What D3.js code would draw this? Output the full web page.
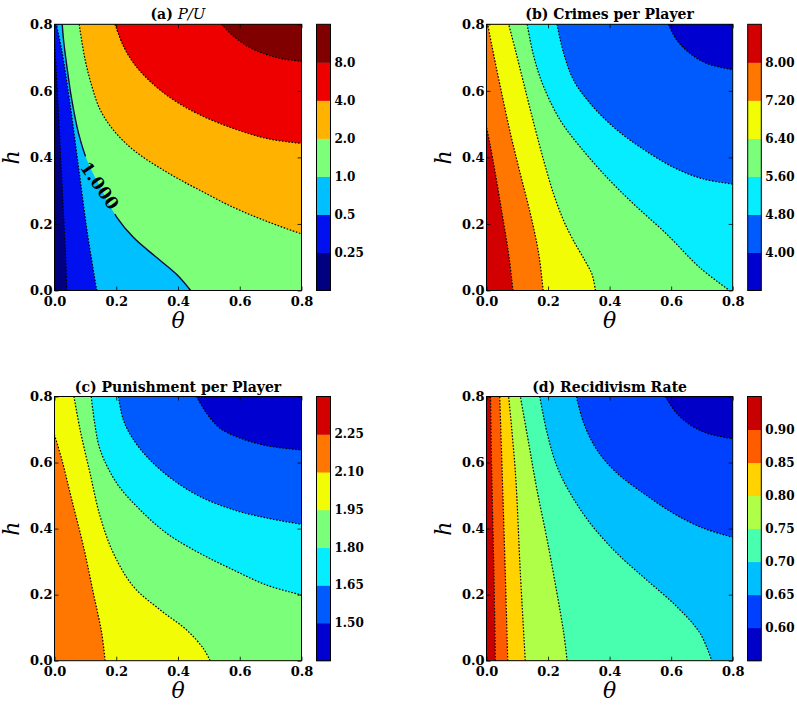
<!DOCTYPE html>
<html>
<head>
<meta charset="utf-8">
<script src="https://cdn.jsdelivr.net/npm/d3@7"></script>
<style>
  html, body { margin: 0; padding: 0; background: #fff; }
  svg { display: block; }
</style>
</head>
<body>
<svg id="chart" width="797" height="706"></svg>
<script>
// ---------------- DATA ----------------
const thetaTicks = [0, 0.2, 0.4, 0.6, 0.8];
const hTicks = [0, 0.2, 0.4, 0.6, 0.8];

// (a) P/U  -- contour boundaries [theta, h]; value grows toward upper-right
const aLevelLabels = ["0.25", "0.5", "1.0", "2.0", "4.0", "8.0"];
const aC025 = [[0.040,0],[0.035,0.12],[0.028,0.25],[0.021,0.38],[0.014,0.51],[0.006,0.65],[0,0.75]];
const aC05  = [[0.137,0],[0.107,0.17],[0.078,0.37],[0.049,0.57],[0.024,0.72],[0.006,0.8]];
const aC1   = [[0.441,0],[0.396,0.048],[0.331,0.099],[0.256,0.159],[0.202,0.220],[0.148,0.311],[0.105,0.392],[0.078,0.472],[0.056,0.573],[0.040,0.674],[0.029,0.755],[0.025,0.8]];
const aC2   = [[0.080,0.8],[0.099,0.694],[0.121,0.614],[0.148,0.543],[0.191,0.482],[0.256,0.422],[0.363,0.356],[0.471,0.301],[0.579,0.250],[0.687,0.208],[0.8,0.170]];
const aC4   = [[0.196,0.8],[0.223,0.735],[0.256,0.684],[0.309,0.629],[0.385,0.573],[0.471,0.528],[0.579,0.487],[0.687,0.457],[0.8,0.442]];
const aC8   = [[0.541,0.8],[0.579,0.765],[0.633,0.730],[0.687,0.709],[0.741,0.696],[0.8,0.689]];
const aLabelText = "1.000";
const aLabelAt = [0.146, 0.315];

// (b) Crimes per Player -- value falls toward upper-right
const bLevelLabels = ["4.00", "4.80", "5.60", "6.40", "7.20", "8.00"];
const bC800 = [[0.086,0],[0.072,0.109],[0.051,0.229],[0.029,0.350],[0.011,0.441],[0,0.491]];
const bC720 = [[0.184,0],[0.170,0.109],[0.143,0.229],[0.110,0.350],[0.078,0.471],[0.045,0.612],[0.018,0.733],[0.004,0.8]];
const bC640 = [[0.354,0],[0.343,0.048],[0.321,0.088],[0.283,0.149],[0.251,0.209],[0.218,0.290],[0.186,0.390],[0.154,0.501],[0.121,0.622],[0.094,0.722],[0.072,0.8]];
const bC560 = [[0.132,0.8],[0.154,0.702],[0.186,0.612],[0.240,0.511],[0.305,0.431],[0.391,0.340],[0.478,0.260],[0.586,0.169],[0.694,0.068],[0.79,0]];
const bC480 = [[0.229,0.8],[0.251,0.712],[0.283,0.632],[0.337,0.562],[0.413,0.491],[0.499,0.431],[0.608,0.370],[0.705,0.335],[0.8,0.32]];
const bC400 = [[0.591,0.8],[0.618,0.753],[0.662,0.712],[0.716,0.682],[0.8,0.664]];

// (c) Punishment per Player
const cLevelLabels = ["1.50", "1.65", "1.80", "1.95", "2.10", "2.25"];
const cC210 = [[0.164,0],[0.153,0.083],[0.126,0.204],[0.094,0.345],[0.056,0.487],[0.024,0.608],[0,0.684]];
const cC195 = [[0.504,0],[0.482,0.037],[0.428,0.093],[0.342,0.154],[0.256,0.224],[0.191,0.325],[0.148,0.436],[0.115,0.568],[0.083,0.699],[0.063,0.8]];
const cC180 = [[0.119,0.8],[0.130,0.72],[0.148,0.638],[0.202,0.537],[0.277,0.457],[0.363,0.386],[0.471,0.325],[0.579,0.275],[0.687,0.229],[0.8,0.199]];
const cC165 = [[0.207,0.8],[0.223,0.729],[0.256,0.669],[0.309,0.608],[0.385,0.547],[0.471,0.497],[0.579,0.457],[0.687,0.432],[0.8,0.413]];
const cC150 = [[0.460,0.8],[0.493,0.749],[0.536,0.704],[0.601,0.674],[0.687,0.651],[0.8,0.638]];

// (d) Recidivism Rate
const dLevelLabels = ["0.60", "0.65", "0.70", "0.75", "0.80", "0.85", "0.90"];
const dC090 = [[0.029,0],[0.024,0.265],[0.017,0.568],[0.013,0.8]];
const dC085 = [[0.069,0],[0.061,0.265],[0.051,0.568],[0.043,0.8]];
const dC080 = [[0.126,0],[0.110,0.265],[0.094,0.568],[0.072,0.8]];
const dC075 = [[0.262,0],[0.251,0.083],[0.229,0.204],[0.197,0.366],[0.164,0.517],[0.137,0.659],[0.110,0.8]];
const dC070 = [[0.173,0.8],[0.197,0.689],[0.229,0.588],[0.272,0.507],[0.337,0.416],[0.424,0.325],[0.521,0.244],[0.618,0.164],[0.694,0.083],[0.732,0]];
const dC065 = [[0.292,0.8],[0.316,0.719],[0.359,0.638],[0.424,0.568],[0.510,0.507],[0.608,0.446],[0.705,0.401],[0.8,0.374]];
const dC060 = [[0.581,0.8],[0.618,0.749],[0.662,0.714],[0.716,0.689],[0.8,0.672]];

// ---------------- STYLES ----------------
const aColors = ["#000080","#0010ee","#00c0ff","#7dff7a","#ffb300","#ee0000","#800000"];
const bcColors = ["#0000d1","#005bff","#05edff","#7bff7b","#f1fc05","#ff7600","#d20000"];
const dColors = ["#0000c8","#0040ff","#00bfff","#48ffaf","#afff48","#ffd200","#ff5c00","#c80000"];
const FONT = "'DejaVu Serif', serif";

const panels = [
  { id:"a", box:{x0:54.5, x1:301.5, y0:24.3, y1:290.5}, cb:{x0:316.5, x1:330.5},
    colors:aColors, bg:0, curves:[aC025,aC05,aC1,aC2,aC4,aC8], fillIdx:[1,2,3,4,5,6],
    solid:[false,false,true,false,false,false], labels:aLevelLabels,
    title:[{t:"(a) ", bold:true},{t:"P/U", italic:true}] },
  { id:"b", box:{x0:486.5, x1:732.7, y0:24.3, y1:290.5}, cb:{x0:747.7, x1:761.3},
    colors:bcColors, bg:6, curves:[bC800,bC720,bC640,bC560,bC480,bC400], fillIdx:[5,4,3,2,1,0],
    labels:bLevelLabels, title:[{t:"(b) Crimes per Player", bold:true}] },
  { id:"c", box:{x0:54.5, x1:301.5, y0:396.5, y1:660.7}, cb:{x0:316.5, x1:330.5},
    colors:bcColors, bg:5, curves:[cC210,cC195,cC180,cC165,cC150], fillIdx:[4,3,2,1,0],
    labels:cLevelLabels, title:[{t:"(c) Punishment per Player", bold:true}] },
  { id:"d", box:{x0:486.5, x1:732.7, y0:396.5, y1:660.7}, cb:{x0:747.5, x1:761.3},
    colors:dColors, bg:7, curves:[dC090,dC085,dC080,dC075,dC070,dC065,dC060], fillIdx:[6,5,4,3,2,1,0],
    labels:dLevelLabels, title:[{t:"(d) Recidivism Rate", bold:true}] }
];

const svg = d3.select("#chart");
svg.append("rect").attr("width",797).attr("height",706).attr("fill","#fff");
const defs = svg.append("defs");

const M = 0.8;
function perimT(p) {
  const d = [Math.abs(p[1]-M), Math.abs(p[0]-M), Math.abs(p[1]), Math.abs(p[0])];
  const e = d.indexOf(Math.min(...d));
  if (e === 0) return p[0];
  if (e === 1) return M + (M - p[1]);
  if (e === 2) return 2*M + (M - p[0]);
  return 3*M + p[1];
}
const cornerList = [[0, [0,M]], [M, [M,M]], [2*M, [M,0]], [3*M, [0,0]]];
function cornersCW(pts) {
  const tA = perimT(pts[0]), tB = perimT(pts[pts.length-1]);
  const P = 4*M;
  const dA = ((tA - tB) % P + P) % P;
  return cornerList.map(([t,c]) => ({d: ((t - tB) % P + P) % P, c}))
    .filter(o => o.d > 0 && o.d < dA).sort((u,v)=>u.d-v.d);
}
function regionPts(curve) {
  let pts = curve.slice();
  let cs = cornersCW(pts);
  if (!cs.some(o => o.c[0]===M && o.c[1]===M)) { pts = pts.reverse(); cs = cornersCW(pts); }
  return {pts, corners: cs.map(o=>o.c)};
}

panels.forEach(P => {
  const {x0,x1,y0,y1} = P.box;
  const xs = d3.scaleLinear().domain([0,0.8]).range([x0,x1]);
  const ys = d3.scaleLinear().domain([0,0.8]).range([y1,y0]);
  const g = svg.append("g");
  defs.append("clipPath").attr("id","clip-"+P.id)
    .append("rect").attr("x",x0).attr("y",y0).attr("width",x1-x0).attr("height",y1-y0);
  const fills = g.append("g").attr("clip-path","url(#clip-"+P.id+")");
  fills.append("rect").attr("x",x0).attr("y",y0).attr("width",x1-x0).attr("height",y1-y0)
    .attr("fill", P.colors[P.bg]);
  const line = d3.line().x(d=>xs(d[0])).y(d=>ys(d[1])).curve(d3.curveCatmullRom.alpha(0.5));
  P.curves.forEach((c,i) => {
    const r = regionPts(c);
    const dstr = line(r.pts) + r.corners.map(p=>"L"+xs(p[0])+","+ys(p[1])).join("") + "Z";
    fills.append("path").attr("d",dstr).attr("fill",P.colors[P.fillIdx[i]]).attr("stroke","none");
  });
  // contour lines
  P.curves.forEach((c,i) => {
    const solid = P.solid && P.solid[i];
    const pth = fills.append("path").attr("d", line(c)).attr("fill","none");
    if (solid) {
      pth.attr("stroke","#0a0a3a").attr("stroke-width",1.4);
      if (P.id === "a") pth.attr("mask","url(#labelMask)");
    } else {
      pth.attr("stroke","#000").attr("stroke-width",1.2).attr("stroke-dasharray","1.6,1.6");
    }
  });
  if (P.id === "a") {
    const lx = xs(aLabelAt[0]), ly = ys(aLabelAt[1]);
    const ang = 55;
    const mask = defs.append("mask").attr("id","labelMask").attr("maskUnits","userSpaceOnUse")
      .attr("x",0).attr("y",0).attr("width",797).attr("height",706);
    mask.append("rect").attr("x",0).attr("y",0).attr("width",797).attr("height",706).attr("fill","#fff");
    mask.append("rect").attr("x",-32).attr("y",-9).attr("width",64).attr("height",18).attr("fill","#000")
      .attr("transform",`translate(${lx},${ly}) rotate(${ang})`);
    g.append("text").attr("transform",`translate(${lx},${ly}) rotate(${ang})`)
      .attr("text-anchor","middle").attr("dy","0.35em")
      .attr("font-family",FONT).attr("font-weight","bold").attr("font-size",17)
      .attr("fill","#000").text(aLabelText);
  }
  // frame
  g.append("rect").attr("x",x0).attr("y",y0).attr("width",x1-x0).attr("height",y1-y0)
    .attr("fill","none").attr("stroke","#000").attr("stroke-width",1);
  // axes
  const fmt = d3.format(".1f");
  const styleAxis = sel => {
    sel.select(".domain").remove();
    sel.selectAll("line").attr("stroke","#000").attr("stroke-width",0.8);
    sel.selectAll("text").attr("font-family",FONT).attr("font-weight","bold").attr("font-size",13).attr("fill","#000");
  };
  g.append("g").attr("transform",`translate(0,${y1})`)
    .call(d3.axisBottom(xs).tickValues(thetaTicks).tickFormat(fmt).tickSize(-4).tickPadding(6)).call(styleAxis);
  g.append("g").attr("transform",`translate(0,${y0})`)
    .call(d3.axisTop(xs).tickValues(thetaTicks).tickFormat("").tickSize(-4)).call(styleAxis);
  g.append("g").attr("transform",`translate(${x0},0)`)
    .call(d3.axisLeft(ys).tickValues(hTicks).tickFormat(fmt).tickSize(-4).tickPadding(2)).call(styleAxis);
  g.append("g").attr("transform",`translate(${x1},0)`)
    .call(d3.axisRight(ys).tickValues(hTicks).tickFormat("").tickSize(-4)).call(styleAxis);
  // axis labels
  g.append("text").attr("x",(x0+x1)/2).attr("y",y1+37.5).attr("text-anchor","middle")
    .attr("font-family",FONT).attr("font-style","italic").attr("font-size",22).text("θ");
  g.append("text").attr("transform",`translate(${x0-36},${(y0+y1)/2}) rotate(-90)`)
    .attr("text-anchor","middle").attr("font-family",FONT).attr("font-style","italic")
    .attr("font-size",22).text("h");
  // title
  const tt = g.append("text").attr("x",(x0+x1)/2).attr("y",y0-5).attr("text-anchor","middle")
    .attr("font-family",FONT).attr("font-size",14).attr("fill","#000");
  P.title.forEach(s => {
    const ts = tt.append("tspan").text(s.t);
    if (s.bold) ts.attr("font-weight","bold");
    if (s.italic) ts.attr("font-style","italic").attr("font-size",15);
  });
  // colorbar
  const nSeg = P.labels.length + 1;
  const cy = d3.scaleLinear().domain([0,nSeg]).range([y1,y0]);
  const cb = g.append("g");
  d3.range(nSeg).forEach(i => {
    cb.append("rect").attr("x",P.cb.x0).attr("y",cy(i+1)).attr("width",P.cb.x1-P.cb.x0)
      .attr("height",cy(i)-cy(i+1)+0.5).attr("fill",P.colors[i]);
  });
  cb.append("rect").attr("x",P.cb.x0).attr("y",y0).attr("width",P.cb.x1-P.cb.x0).attr("height",y1-y0)
    .attr("fill","none").attr("stroke","#000").attr("stroke-width",1);
  P.labels.forEach((lab,i) => {
    cb.append("text").attr("x",P.cb.x1+4).attr("y",cy(i+1)).attr("dy","0.35em")
      .attr("font-family",FONT).attr("font-weight","bold").attr("font-size",12).attr("fill","#000").text(lab);
  });
});
</script>
</body>
</html>
